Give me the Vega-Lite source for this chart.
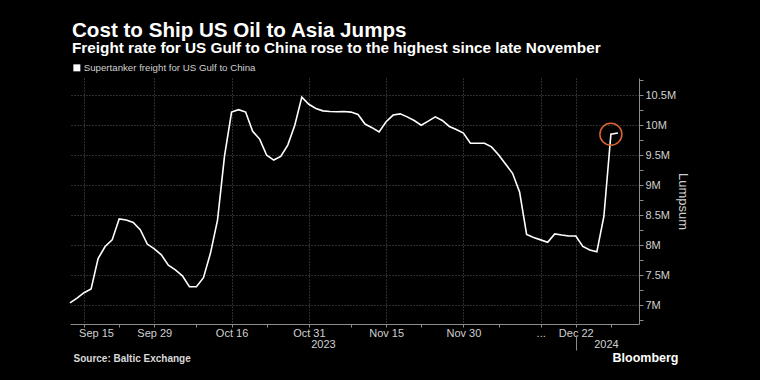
{
  "$schema": "https://vega.github.io/schema/vega-lite/v6.json",
  "width": 569,
  "height": 246,
  "autosize": {"type": "none"},
  "padding": {"left": 70, "top": 78, "right": 121, "bottom": 56},
  "background": "#000000",
  "config": {"view": {"stroke": null}, "font": "Liberation Sans"},
  "title": {
    "text": "Cost to Ship US Oil to Asia Jumps",
    "subtitle": "Freight rate for US Gulf to China rose to the highest since late November",
    "anchor": "start", "frame": "group", "dx": 2, "offset": 6.5,
    "font": "Liberation Sans", "fontSize": 20.6, "fontWeight": "bold", "color": "#ffffff",
    "subtitleFont": "Liberation Sans", "subtitleFontSize": 15.3, "subtitleFontWeight": "bold", "subtitleColor": "#ffffff", "subtitlePadding": 0
  },
  "data": {"values": [
    {"date": "2023-09-13", "value": 7040000},
    {"date": "2023-09-14", "value": 7120000},
    {"date": "2023-09-15", "value": 7210000},
    {"date": "2023-09-18", "value": 7270000},
    {"date": "2023-09-19", "value": 7780000},
    {"date": "2023-09-20", "value": 7980000},
    {"date": "2023-09-21", "value": 8090000},
    {"date": "2023-09-22", "value": 8440000},
    {"date": "2023-09-25", "value": 8420000},
    {"date": "2023-09-26", "value": 8380000},
    {"date": "2023-09-27", "value": 8260000},
    {"date": "2023-09-28", "value": 8020000},
    {"date": "2023-09-29", "value": 7940000},
    {"date": "2023-10-02", "value": 7840000},
    {"date": "2023-10-03", "value": 7670000},
    {"date": "2023-10-04", "value": 7590000},
    {"date": "2023-10-05", "value": 7490000},
    {"date": "2023-10-06", "value": 7310000},
    {"date": "2023-10-09", "value": 7310000},
    {"date": "2023-10-10", "value": 7460000},
    {"date": "2023-10-11", "value": 7870000},
    {"date": "2023-10-12", "value": 8420000},
    {"date": "2023-10-13", "value": 9490000},
    {"date": "2023-10-16", "value": 10220000},
    {"date": "2023-10-17", "value": 10260000},
    {"date": "2023-10-18", "value": 10220000},
    {"date": "2023-10-19", "value": 9900000},
    {"date": "2023-10-20", "value": 9770000},
    {"date": "2023-10-23", "value": 9500000},
    {"date": "2023-10-24", "value": 9420000},
    {"date": "2023-10-25", "value": 9480000},
    {"date": "2023-10-26", "value": 9670000},
    {"date": "2023-10-27", "value": 10000000},
    {"date": "2023-10-30", "value": 10470000},
    {"date": "2023-10-31", "value": 10350000},
    {"date": "2023-11-01", "value": 10280000},
    {"date": "2023-11-02", "value": 10240000},
    {"date": "2023-11-03", "value": 10230000},
    {"date": "2023-11-06", "value": 10225000},
    {"date": "2023-11-07", "value": 10230000},
    {"date": "2023-11-08", "value": 10220000},
    {"date": "2023-11-09", "value": 10180000},
    {"date": "2023-11-10", "value": 10020000},
    {"date": "2023-11-13", "value": 9960000},
    {"date": "2023-11-14", "value": 9890000},
    {"date": "2023-11-15", "value": 10060000},
    {"date": "2023-11-16", "value": 10170000},
    {"date": "2023-11-17", "value": 10190000},
    {"date": "2023-11-20", "value": 10140000},
    {"date": "2023-11-21", "value": 10080000},
    {"date": "2023-11-22", "value": 10000000},
    {"date": "2023-11-23", "value": 10070000},
    {"date": "2023-11-24", "value": 10140000},
    {"date": "2023-11-27", "value": 10080000},
    {"date": "2023-11-28", "value": 9980000},
    {"date": "2023-11-29", "value": 9930000},
    {"date": "2023-11-30", "value": 9870000},
    {"date": "2023-12-01", "value": 9700000},
    {"date": "2023-12-04", "value": 9700000},
    {"date": "2023-12-05", "value": 9700000},
    {"date": "2023-12-06", "value": 9640000},
    {"date": "2023-12-07", "value": 9510000},
    {"date": "2023-12-08", "value": 9355000},
    {"date": "2023-12-11", "value": 9200000},
    {"date": "2023-12-12", "value": 8890000},
    {"date": "2023-12-13", "value": 8180000},
    {"date": "2023-12-14", "value": 8130000},
    {"date": "2023-12-15", "value": 8090000},
    {"date": "2023-12-18", "value": 8050000},
    {"date": "2023-12-19", "value": 8190000},
    {"date": "2023-12-20", "value": 8170000},
    {"date": "2023-12-21", "value": 8155000},
    {"date": "2023-12-22", "value": 8155000},
    {"date": "2023-12-27", "value": 7980000},
    {"date": "2023-12-28", "value": 7920000},
    {"date": "2023-12-29", "value": 7890000},
    {"date": "2024-01-02", "value": 8480000},
    {"date": "2024-01-03", "value": 9850000},
    {"date": "2024-01-04", "value": 9870000}
  ]},
  "layer": [
    {
      "mark": {"type": "line", "color": "#ffffff", "strokeWidth": 1.6},
      "encoding": {
        "x": {
          "field": "date", "type": "ordinal",
          "scale": {
            "type": "point", "padding": 0, "align": 0,
            "domain": ["2023-09-13", "2023-09-14", "2023-09-15", "2023-09-18", "2023-09-19", "2023-09-20", "2023-09-21", "2023-09-22", "2023-09-25", "2023-09-26", "2023-09-27", "2023-09-28", "2023-09-29", "2023-10-02", "2023-10-03", "2023-10-04", "2023-10-05", "2023-10-06", "2023-10-09", "2023-10-10", "2023-10-11", "2023-10-12", "2023-10-13", "2023-10-16", "2023-10-17", "2023-10-18", "2023-10-19", "2023-10-20", "2023-10-23", "2023-10-24", "2023-10-25", "2023-10-26", "2023-10-27", "2023-10-30", "2023-10-31", "2023-11-01", "2023-11-02", "2023-11-03", "2023-11-06", "2023-11-07", "2023-11-08", "2023-11-09", "2023-11-10", "2023-11-13", "2023-11-14", "2023-11-15", "2023-11-16", "2023-11-17", "2023-11-20", "2023-11-21", "2023-11-22", "2023-11-23", "2023-11-24", "2023-11-27", "2023-11-28", "2023-11-29", "2023-11-30", "2023-12-01", "2023-12-04", "2023-12-05", "2023-12-06", "2023-12-07", "2023-12-08", "2023-12-11", "2023-12-12", "2023-12-13", "2023-12-14", "2023-12-15", "2023-12-18", "2023-12-19", "2023-12-20", "2023-12-21", "2023-12-22", "2023-12-27", "2023-12-28", "2023-12-29", "2024-01-02", "2024-01-03", "2024-01-04", "2024-01-05", "2024-01-08", "2024-01-09"]
          },
          "axis": {
            "orient": "bottom",
            "values": ["2023-09-15", "2023-09-22", "2023-09-29", "2023-10-09", "2023-10-16", "2023-10-23", "2023-10-31", "2023-11-08", "2023-11-15", "2023-11-22", "2023-11-30", "2023-12-07", "2023-12-15", "2023-12-22", "2024-01-03"],
            "labelExpr": "datum.value === '2023-12-15' ? '...' : (indexof(['2023-09-15','2023-09-29','2023-10-16','2023-10-31','2023-11-15','2023-11-30','2023-12-22'], datum.value) >= 0 ? utcFormat(toDate(datum.value), '%b %d') : '')",
            "labelAngle": 0, "labelFontSize": 11, "labelColor": "#d0d0d0", "labelPadding": 0, "labelOverlap": false,
            "labelOffset": {"condition": {"test": "datum.value === '2023-09-15'", "value": 12}, "value": 0},
            "ticks": true, "tickSize": 3, "tickColor": "#8c8c8c",
            "domain": true, "domainColor": "#8c8c8c",
            "grid": true, "gridColor": "#5a5a5a", "gridDash": [1, 2],
            "gridOpacity": {"condition": {"test": "indexof(['2023-09-15','2023-09-29','2023-10-16','2023-10-31','2023-11-15','2023-11-30','2023-12-15','2023-12-22'], datum.value) >= 0", "value": 1}, "value": 0},
            "title": "Source: Baltic Exchange", "titleFontSize": 10, "titleFontWeight": "bold", "titleColor": "#d9d9d9",
            "titleAlign": "left", "titleBaseline": "middle", "titleX": 3, "titleY": 34
          }
        },
        "y": {
          "field": "value", "type": "quantitative",
          "scale": {"domain": [6688000, 10788000], "nice": false, "zero": false},
          "axis": {
            "orient": "right", "tickCount": 100,
            "values": [6750000, 7000000, 7250000, 7500000, 7750000, 8000000, 8250000, 8500000, 8750000, 9000000, 9250000, 9500000, 9750000, 10000000, 10250000, 10500000, 10750000],
            "labelExpr": "indexof([7000000, 7500000, 8000000, 8500000, 9000000, 9500000, 10000000, 10500000], datum.value) >= 0 ? (datum.value / 1000000) + 'M' : ''",
            "labelFontSize": 11, "labelColor": "#d0d0d0", "labelPadding": 2, "labelOverlap": false,
            "tickSize": 4, "tickColor": "#8c8c8c",
            "domain": true, "domainColor": "#8c8c8c",
            "grid": true, "gridColor": "#5a5a5a", "gridDash": [1, 2],
            "gridOpacity": {"condition": {"test": "indexof([7000000, 7500000, 8000000, 8500000, 9000000, 9500000, 10000000, 10500000], datum.value) >= 0", "value": 1}, "value": 0},
            "title": "Lumpsum", "titleFontSize": 13, "titleFontWeight": "normal", "titleColor": "#d0d0d0", "titlePadding": 0
          }
        },
        "color": {
          "datum": "Supertanker freight for US Gulf to China",
          "scale": {"range": ["#ffffff"]},
          "legend": {
            "orient": "none", "legendX": 2, "legendY": -15, "title": null, "padding": 0,
            "symbolType": "square", "symbolSize": 49, "symbolFillColor": "#ffffff", "symbolStrokeColor": "#ffffff", "symbolStrokeWidth": 0,
            "labelFontSize": 9.7, "labelColor": "#d0d0d0", "labelOffset": 2, "labelLimit": 400
          }
        }
      }
    },
    {
      "transform": [{"filter": "datum.date === '2024-01-03'"}],
      "mark": {"type": "point", "shape": "circle", "filled": false, "stroke": "#dc6430", "strokeWidth": 1.5, "size": 484, "opacity": 1},
      "encoding": {
        "x": {
          "field": "date", "type": "ordinal",
          "axis": {
            "orient": "bottom", "offset": 11,
            "values": ["2023-11-02", "2023-12-22", "2024-01-02"],
            "labelExpr": "datum.value === '2023-11-02' ? '2023' : (datum.value === '2024-01-02' ? '2024' : '')",
            "labelAngle": 0, "labelFontSize": 11, "labelColor": "#d0d0d0", "labelPadding": -12, "labelOverlap": false,
            "labelOffset": {"condition": {"test": "datum.value === '2024-01-02'", "value": 2}, "value": 0},
            "domain": false, "grid": false,
            "ticks": true, "tickSize": 15, "tickColor": "#8c8c8c",
            "tickOpacity": {"condition": {"test": "datum.value === '2023-12-22'", "value": 1}, "value": 0},
            "title": "Bloomberg", "titleFontSize": 12.5, "titleFontWeight": "bold", "titleColor": "#ffffff",
            "titleAlign": "left", "titleBaseline": "middle", "titleX": 542, "titleY": 22
          }
        },
        "y": {"field": "value", "type": "quantitative"}
      }
    }
  ],
  "resolve": {"axis": {"x": "independent"}}
}
